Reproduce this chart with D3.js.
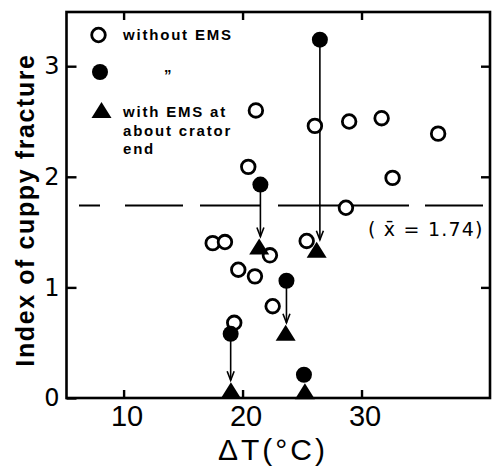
<!DOCTYPE html>
<html>
<head>
<meta charset="utf-8">
<script src="https://cdn.jsdelivr.net/npm/d3@7"></script>
<style>
  html, body { margin: 0; padding: 0; background: #fff; }
  svg { display: block; }
</style>
</head>
<body>
<svg id="chart" width="494" height="467"></svg>
<script>
// ---- data ----
const xTicks = [10, 20, 30];
const yTicks = [0, 1, 2, 3];
const yTickLabels = ["0", "1", "2", "3"];

// open circles: without EMS
const openX = [21.12, 26.08, 28.96, 31.69, 36.44, 20.48, 32.61, 28.69, 17.49, 18.52, 22.30, 25.39, 19.64, 21.04, 22.53, 19.30];
const openY = [2.60, 2.46, 2.50, 2.53, 2.39, 2.09, 1.99, 1.72, 1.40, 1.41, 1.29, 1.42, 1.16, 1.10, 0.83, 0.68];

// filled circles: without EMS (same heats later treated with EMS)
const filledX = [26.50, 21.50, 23.69, 19.00, 25.16];
const filledY = [3.24, 1.93, 1.06, 0.58, 0.21];

// triangles: with EMS at about crator end
const triX = [26.23, 21.40, 23.62, 19.02, 25.24];
const triY = [1.34, 1.37, 0.59, 0.07, 0.06];

// arrows: filled circle index -> triangle index
const arrowFrom = [0, 1, 2, 3];
const arrowTo = [0, 1, 2, 3];

const meanValue = 1.74;
const meanLabel = "( x\u0304 = 1.74)";

const legendLabels = ["without EMS", "\u201D", "with EMS at", "about crator", "end"];
const xTitle = "\u0394T(\u00B0C)";
const yTitle = "Index of cuppy fracture";

// ---- layout ----
const svg = d3.select("#chart");
const pLeft = 66.5, pRight = 490, pTop = 12, pBottom = 398;

const x = d3.scaleLinear().domain([5.2, 40.8]).range([pLeft, pRight]);
const y = d3.scaleLinear().domain([0, 3.49]).range([pBottom, pTop]);

// frame
svg.append("rect")
  .attr("x", pLeft).attr("y", pTop)
  .attr("width", pRight - pLeft).attr("height", pBottom - pTop)
  .attr("fill", "none").attr("stroke", "#000").attr("stroke-width", 2.6);

// axes
const axL = svg.append("g").attr("transform", `translate(${pLeft},0)`)
  .call(d3.axisLeft(y).tickValues(yTicks).tickFormat((d, i) => yTickLabels[i]).tickSize(-10).tickPadding(7));
const axR = svg.append("g").attr("transform", `translate(${pRight},0)`)
  .call(d3.axisRight(y).tickValues(yTicks.filter(d => d > 0)).tickFormat("").tickSize(-9));
const axB = svg.append("g").attr("transform", `translate(0,${pBottom})`)
  .call(d3.axisBottom(x).tickValues(xTicks).tickFormat(d3.format("d")).tickSize(-8).tickPadding(7));
const axT = svg.append("g").attr("transform", `translate(0,${pTop})`)
  .call(d3.axisTop(x).tickValues(xTicks).tickFormat("").tickSize(-8));

[axL, axR, axB, axT].forEach(g => {
  g.select(".domain").remove();
  g.selectAll(".tick line").attr("stroke", "#000").attr("stroke-width", 2.4);
});
axL.selectAll(".tick text")
  .attr("font-family", "DejaVu Sans, sans-serif").attr("font-size", 24).attr("fill", "#000");
axB.selectAll(".tick text")
  .attr("font-family", "Liberation Sans, Arial, sans-serif").attr("font-size", 29).attr("fill", "#000")
  .attr("dx", 3);

// mean dashed line
svg.append("line")
  .attr("x1", 79).attr("x2", 484)
  .attr("y1", y(meanValue)).attr("y2", y(meanValue))
  .attr("stroke", "#000").attr("stroke-width", 2)
  .attr("stroke-dasharray", "21,25,58,17,60,18,131,16,58");

svg.append("text")
  .attr("x", 368).attr("y", y(meanValue) + 30)
  .attr("font-family", "DejaVu Sans, sans-serif").attr("font-size", 19)
  .attr("letter-spacing", 1.2)
  .text(meanLabel);

// arrows
const triHalfH = 8, triHalfW = 10;
arrowFrom.forEach((fi, k) => {
  const ti = arrowTo[k];
  const ax = x(filledX[fi]);
  const tip = y(triY[ti]) - triHalfH - 2;
  svg.append("line")
    .attr("x1", ax).attr("x2", ax)
    .attr("y1", y(filledY[fi])).attr("y2", tip)
    .attr("stroke", "#000").attr("stroke-width", 1.6);
  svg.append("path")
    .attr("d", `M${ax - 3.5},${tip - 9}L${ax},${tip}L${ax + 3.5},${tip - 9}`)
    .attr("fill", "none").attr("stroke", "#000").attr("stroke-width", 1.6);
});

// open circles
svg.append("g").selectAll("circle")
  .data(openX.map((v, i) => [v, openY[i]]))
  .join("circle")
  .attr("cx", d => x(d[0])).attr("cy", d => y(d[1])).attr("r", 6.8)
  .attr("fill", "#fff").attr("stroke", "#000").attr("stroke-width", 2.8);

// triangles
const triPath = `M0,${-triHalfH}L${triHalfW},${triHalfH}L${-triHalfW},${triHalfH}Z`;
svg.append("g").selectAll("path")
  .data(triX.map((v, i) => [v, triY[i]]))
  .join("path")
  .attr("d", triPath)
  .attr("transform", d => `translate(${x(d[0])},${y(d[1])})`)
  .attr("fill", "#000");

// filled circles
svg.append("g").selectAll("circle")
  .data(filledX.map((v, i) => [v, filledY[i]]))
  .join("circle")
  .attr("cx", d => x(d[0])).attr("cy", d => y(d[1])).attr("r", 8)
  .attr("fill", "#000");

// legend
const lg = svg.append("g");
lg.append("circle").attr("cx", 98.5).attr("cy", 35).attr("r", 6.8)
  .attr("fill", "#fff").attr("stroke", "#000").attr("stroke-width", 2.8);
lg.append("circle").attr("cx", 100).attr("cy", 72).attr("r", 8).attr("fill", "#000");
lg.append("path").attr("d", triPath).attr("transform", "translate(101.5,110)").attr("fill", "#000");

const legendPos = [[123, 40], [164, 80], [123, 117], [123, 135.5], [123, 154]];
legendLabels.forEach((t, i) => {
  lg.append("text")
    .attr("x", legendPos[i][0]).attr("y", legendPos[i][1])
    .attr("font-family", "Liberation Sans, Arial, sans-serif")
    .attr("font-weight", "bold").attr("font-size", 15)
    .attr("letter-spacing", 1.8)
    .text(t);
});

// axis titles
svg.append("text")
  .attr("x", 273).attr("y", 460)
  .attr("text-anchor", "middle")
  .attr("font-family", "Liberation Sans, Arial, sans-serif").attr("font-size", 30)
  .attr("letter-spacing", 3)
  .text(xTitle);

svg.append("text")
  .attr("transform", "translate(34,210) rotate(-90)")
  .attr("text-anchor", "middle")
  .attr("font-family", "Liberation Sans, Arial, sans-serif")
  .attr("font-weight", "bold").attr("font-size", 25)
  .attr("letter-spacing", 1.6)
  .text(yTitle);
</script>
</body>
</html>
